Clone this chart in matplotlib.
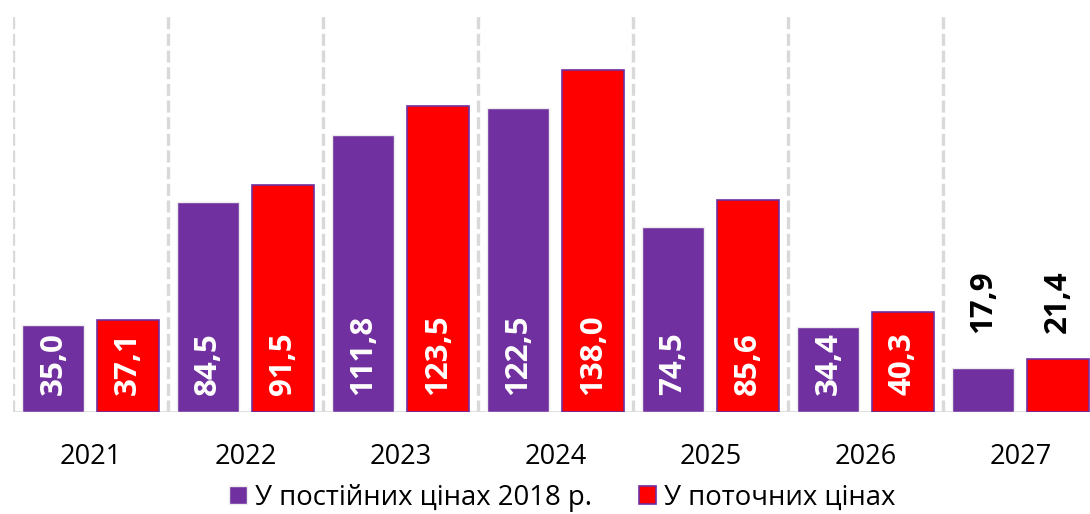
import matplotlib
matplotlib.use("Agg")
import matplotlib.pyplot as plt
from matplotlib.patches import Patch
import numpy as np

years = ["2021", "2022", "2023", "2024", "2025", "2026", "2027"]
constant_prices = [35.0, 84.5, 111.8, 122.5, 74.5, 34.4, 17.9]
current_prices = [37.1, 91.5, 123.5, 138.0, 85.6, 40.3, 21.4]
series_names = ["У постійних цінах 2018 р.", "У поточних цінах"]
label_fmt = lambda v: f"{v:.1f}".replace(".", ",")

PURPLE = "#7030A0"
RED = "#FF0000"

plt.rcParams['font.family'] = ['Open Sans', 'DejaVu Sans']

fig = plt.figure(figsize=(10.9, 5.14), dpi=100)
ax = fig.add_axes([13/1090, 102/514, 7*155/1090, 397/514])

x = np.arange(len(years))
w = 0.40
off = 0.24
b1 = ax.bar(x - off, constant_prices, w, color=PURPLE, edgecolor="#EDEDED", linewidth=1.0, zorder=3)
b2 = ax.bar(x + off, current_prices, w, color=RED, edgecolor=PURPLE, linewidth=1.2, zorder=3)

ax.set_xlim(-0.5, len(years) - 0.5)
ax.set_ylim(0, 160)

for gx in np.arange(len(years) + 1) - 0.5:
    ax.axvline(gx, color="#D9D9D9", lw=2.4, linestyle=(0, (3.6, 1.4)), zorder=1)
ax.axhline(0, color="#D9D9D9", lw=1.2, zorder=2)

for s in ax.spines.values():
    s.set_visible(False)
ax.set_yticks([])
ax.set_xticks(x)
ax.set_xticklabels(years, fontsize=19.5)
ax.tick_params(axis='x', length=0, pad=22)

for bars, vals in ((b1, constant_prices), (b2, current_prices)):
    for i, (rect, v) in enumerate(zip(bars, vals)):
        cx = rect.get_x() + rect.get_width() / 2
        if v >= 30:
            ax.text(cx, 6.8, label_fmt(v), rotation=90, ha='center', va='bottom',
                    color='white', fontsize=22.5, fontweight='bold', zorder=4)
        else:
            ax.text(cx, 32, label_fmt(v), rotation=90, ha='center', va='bottom',
                    color='black', fontsize=22.5, fontweight='bold', zorder=4)

handles = [Patch(facecolor=PURPLE, edgecolor="#EDEDED", linewidth=1.0),
           Patch(facecolor=RED, edgecolor=PURPLE, linewidth=1.2)]
fig.legend(handles, series_names, loc='center', bbox_to_anchor=(0.516, 16/514),
           ncol=2, frameon=False, fontsize=19.8, handlelength=0.64, handleheight=0.64,
           handletextpad=0.3, columnspacing=1.7, borderaxespad=0, borderpad=0)

fig.savefig("out.png", dpi=100)
